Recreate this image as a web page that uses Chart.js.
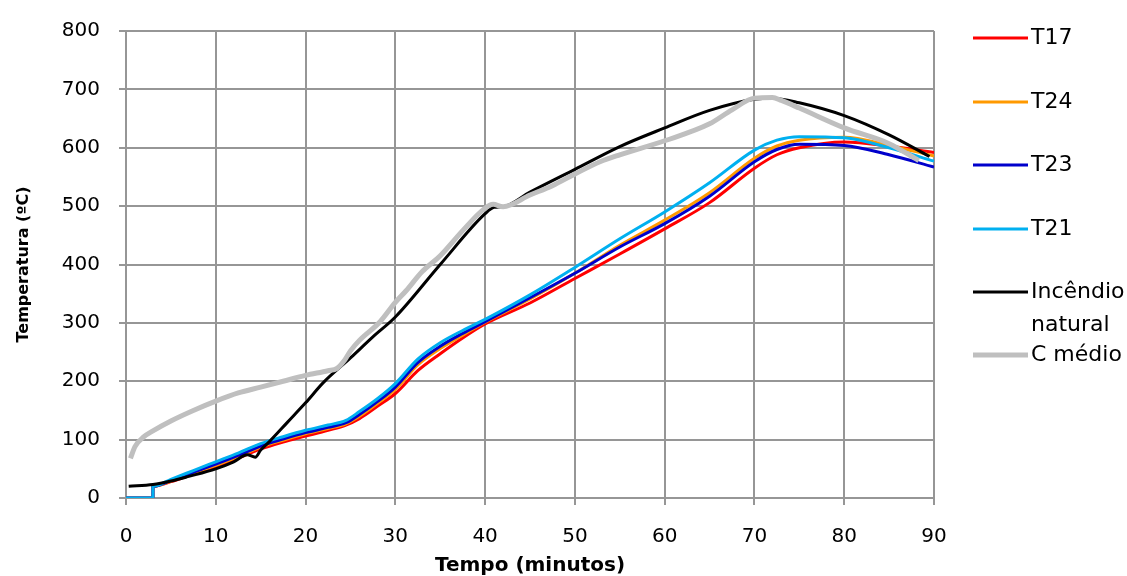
<!DOCTYPE html>
<html>
<head>
<meta charset="utf-8">
<script src="https://cdn.jsdelivr.net/npm/chart.js@4/dist/chart.umd.min.js"></script>
<style>
  html, body { margin: 0; padding: 0; background: #fff; }
  #wrap { width: 1127px; height: 576px; }
</style>
</head>
<body>
<div id="wrap"><canvas id="c" width="1127" height="576"></canvas></div>
<script>
// tempos (minutos) comuns aos termopares
const tempos = [0, 3, 3, 5, 7.5, 10, 12.5, 15, 17.5, 20, 22.5, 24.5, 26, 28, 30, 32.5, 35, 37.5, 40,
  45, 50, 55, 60, 65, 70, 72.5, 75, 80, 85, 90];
const t17 = [0, 0, 20, 28, 41, 53, 68, 84, 96, 106, 116, 125, 136, 157, 179, 218, 247, 274, 298,
  334, 376, 418, 461, 506, 565, 588, 600, 610, 603, 592];
const t24 = [0, 0, 20, 29, 43, 56, 71, 87, 99, 110, 119, 127, 140, 162, 186, 228, 256, 279, 301,
  341, 385, 433, 476, 523, 582, 603, 613, 618, 604, 586];
const t23 = [0, 0, 20, 30, 44, 58, 73, 89, 101, 112, 121, 129, 143, 165, 190, 232, 260, 282, 302,
  343, 385, 430, 470, 517, 576, 597, 606, 604, 588, 567];
const t21 = [0, 0, 20, 32, 47, 62, 77, 93, 105, 116, 125, 133, 148, 170, 196, 238, 266, 287, 306,
  348, 395, 444, 490, 540, 596, 613, 619, 617, 600, 577];

// curva de incêndio natural
const incendioTempos = [0.3, 3, 5, 7, 10, 12, 13.5, 14.4, 15, 16, 18, 20, 22, 25, 27.5, 30, 35, 40,
  41, 42, 45, 50, 55, 60, 65, 70, 72, 75, 80, 85, 89.5];
const incendio = [20, 23, 29, 37, 50, 62, 74, 70, 82, 97, 130, 163, 198, 240, 276, 310, 400, 487,
  498, 499, 524, 563, 602, 634, 664, 683, 685, 677, 655, 622, 585];

// C médio
const medioTempos = [0.5, 1, 2, 3, 5, 7.5, 10, 12.5, 15, 17.5, 20, 22.5, 23.5, 24.3, 25, 26, 28.3,
  30, 31.2, 33, 35, 37.5, 39.8, 40.9, 42, 45, 47.5, 50, 52.8, 55, 60, 65, 67.5, 70, 72, 73, 75,
  80, 85, 88.3];
const medio = [68, 88, 105, 115, 132, 150, 166, 180, 190, 200, 210, 218, 222, 235, 252, 270, 302,
  335, 355, 388, 415, 458, 494, 503, 499, 519, 535, 555, 576, 588, 612, 641, 665, 685, 686, 681,
  668, 634, 607, 578];

const xTicks = [0, 10, 20, 30, 40, 50, 60, 70, 80, 90];
const yTicks = [0, 100, 200, 300, 400, 500, 600, 700, 800];

const pts = (xs, ys) => xs.map((x, i) => ({ x, y: ys[i] }));

const series = [
  { label: 'T17', data: pts(tempos, t17), color: '#ff0000', width: 3, order: 6 },
  { label: 'T24', data: pts(tempos, t24), color: '#ff9900', width: 3, order: 5 },
  { label: 'T23', data: pts(tempos, t23), color: '#0000cc', width: 3, order: 4 },
  { label: 'T21', data: pts(tempos, t21), color: '#00b0f0', width: 3, order: 3 },
  { label: ['Incêndio', 'natural'], data: pts(incendioTempos, incendio), color: '#000000', width: 3, order: 2 },
  { label: 'C médio', data: pts(medioTempos, medio), color: '#bfbfbf', width: 5, order: 1 }
];

// legenda à direita, com o espaçamento do original
const sideLegend = {
  id: 'sideLegend',
  afterDraw(chart) {
    const ctx = chart.ctx;
    const rows = [38, 102, 165, 229, 292, 355];
    ctx.save();
    ctx.font = '22px "DejaVu Sans"';
    ctx.textBaseline = 'middle';
    ctx.fillStyle = '#000';
    chart.data.datasets.forEach((ds, i) => {
      const y = rows[i];
      ctx.strokeStyle = ds.borderColor;
      ctx.lineWidth = ds.borderWidth;
      ctx.beginPath();
      ctx.moveTo(973, y);
      ctx.lineTo(1028, y);
      ctx.stroke();
      const lines = Array.isArray(ds.label) ? ds.label : [ds.label];
      lines.forEach((t, k) => ctx.fillText(t, 1031, y + k * 33));
    });
    ctx.restore();
  }
};

new Chart(document.getElementById('c'), {
  type: 'line',
  data: {
    datasets: series.map((s) => ({
      label: s.label,
      data: s.data,
      borderColor: s.color,
      backgroundColor: s.color,
      borderWidth: s.width,
      pointRadius: 0,
      cubicInterpolationMode: 'monotone',
      fill: false,
      order: s.order
    }))
  },
  options: {
    responsive: false,
    animation: false,
    layout: { padding: { left: 0, top: 26, right: 193, bottom: 0 } },
    plugins: { legend: { display: false }, tooltip: { enabled: false } },
    scales: {
      x: {
        type: 'linear',
        min: 0,
        max: 90,
        afterFit: (s) => { s.height = 78; },
        afterBuildTicks: (s) => {
          s.ticks = [];
          for (let v = 0; v <= 90; v += 5) s.ticks.push({ value: v });
        },
        ticks: {
          padding: 20,
          color: '#000',
          font: { family: 'DejaVu Sans', size: 20 },
          callback: (v) => (xTicks.includes(v) ? String(v) : null)
        },
        grid: {
          color: (c) => (c.tick && c.tick.value % 10 === 0 ? '#969696' : '#b4b4b4'),
          lineWidth: 2,
          tickLength: 7,
          tickColor: (c) => (c.tick && c.tick.value % 10 === 0 ? '#969696' : 'rgba(0,0,0,0)')
        },
        border: { color: '#969696', width: 2 },
        title: {
          display: true,
          text: 'Tempo (minutos)',
          color: '#000',
          font: { family: 'DejaVu Sans', size: 20, weight: 'bold' },
          padding: { top: 0, bottom: -2 }
        }
      },
      y: {
        min: 0,
        max: 800,
        afterFit: (s) => { s.width = 126; },
        afterBuildTicks: (s) => { s.ticks = yTicks.map((v) => ({ value: v })); },
        ticks: {
          padding: 19,
          color: '#000',
          font: { family: 'DejaVu Sans', size: 20 }
        },
        grid: { color: '#969696', lineWidth: 2, tickLength: 7, tickColor: '#969696' },
        border: { color: '#969696', width: 2 },
        title: {
          display: true,
          text: 'Temperatura (ºC)',
          color: '#000',
          font: { family: 'DejaVu Sans', size: 16, weight: 'bold' },
          padding: { top: 14, bottom: 0 }
        }
      }
    }
  },
  plugins: [sideLegend]
});
</script>
</body>
</html>
